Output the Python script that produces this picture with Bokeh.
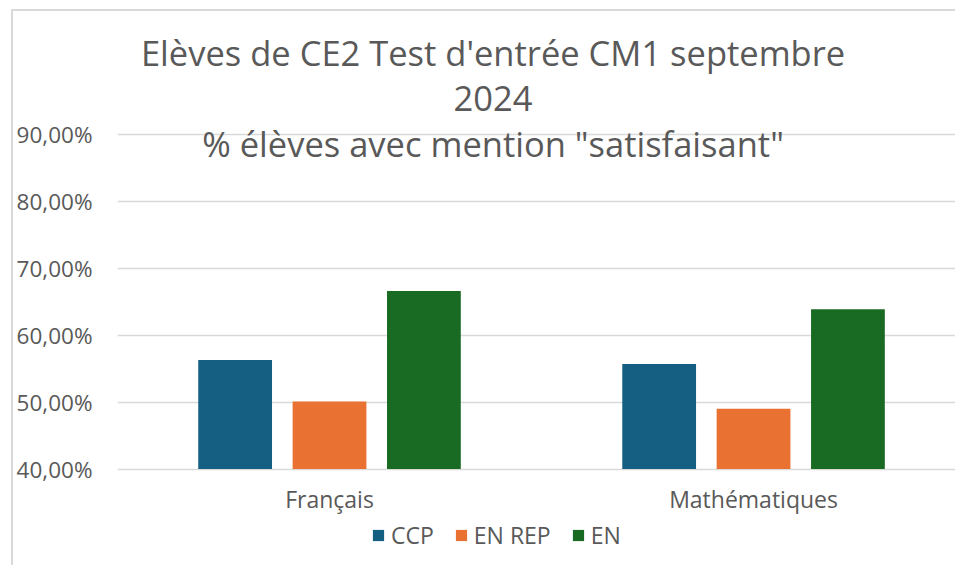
from bokeh.plotting import figure
from bokeh.models import Range1d, FixedTicker, Label, Legend, LegendItem
from bokeh.embed import file_html
from bokeh.resources import INLINE

categories = ["Français", "Mathématiques"]
series_names = ["CCP", "EN REP", "EN"]
ccp = [56.3, 55.7]
en_rep = [50.1, 49.0]
en = [66.6, 63.9]
y_ticks = [40, 50, 60, 70, 80, 90]
y_tick_labels = ["40,00%", "50,00%", "60,00%", "70,00%", "80,00%", "90,00%"]
title_lines = ["Elèves de CE2 Test d'entrée CM1 septembre", "2024",
               "% élèves avec mention \"satisfaisant\""]
colors = ["#156082", "#E97132", "#196B24"]

FONT = "Open Sans"
TXT = "#595959"

p = figure(width=944, height=556, output_backend="svg", toolbar_location=None,
           x_range=Range1d(0, 1.981), y_range=Range1d(25.28, 108.39),
           min_border_left=96, min_border_right=0, min_border_top=0,
           min_border_bottom=0)
p.styles = {"margin-left": "11px", "margin-top": "9px",
            "border-left": "2px solid #d9d9d9", "border-top": "2px solid #d9d9d9"}
p.outline_line_color = None
p.background_fill_color = "white"
p.border_fill_color = "white"

centers = [i + 0.5 for i in range(len(categories))]
offsets = [-0.2226, 0.0, 0.2226]
bar_w = 0.174
renderers = []
for vals, off, col in zip([ccp, en_rep, en], offsets, colors):
    r = p.vbar(x=[c + off for c in centers], top=vals, bottom=40, width=bar_w,
               fill_color=col, line_color=None)
    renderers.append(r)

p.ygrid.grid_line_color = "#d9d9d9"
p.ygrid.grid_line_width = 1.5
p.xgrid.grid_line_color = None
p.yaxis.ticker = FixedTicker(ticks=y_ticks)
p.yaxis.major_label_overrides = {t: l for t, l in zip(y_ticks, y_tick_labels)}
p.xaxis.ticker = FixedTicker(ticks=centers)
p.xaxis.major_label_overrides = {c: n for c, n in zip(centers, categories)}
p.xaxis.fixed_location = 40
for ax in (p.xaxis, p.yaxis):
    ax.axis_line_color = None
    ax.major_tick_line_color = None
    ax.minor_tick_line_color = None
    ax.major_label_text_font = FONT
    ax.major_label_text_color = TXT
p.yaxis.major_label_text_font_size = "22.5px"
p.xaxis.major_label_text_font_size = "23px"
p.yaxis.major_label_standoff = 19
p.xaxis.major_label_standoff = 8

base_y = [102.24, 95.45, 88.66]
for line, yy in zip(title_lines, base_y):
    p.add_layout(Label(x=0.8857, y=yy, text=line, text_align="center",
                       text_baseline="alphabetic", text_font=FONT,
                       text_font_size="34.5px", text_color=TXT))

legend = Legend(items=[LegendItem(label=n, renderers=[r]) for n, r in zip(series_names, renderers)],
                orientation="horizontal", location=(254, 16),
                glyph_width=14, glyph_height=14, label_standoff=6, spacing=20,
                label_text_font=FONT, label_text_font_size="23px", label_text_color=TXT,
                border_line_color=None, background_fill_alpha=0, padding=4, margin=0)
p.add_layout(legend)

open("out.html", "w").write(file_html(p, INLINE))
